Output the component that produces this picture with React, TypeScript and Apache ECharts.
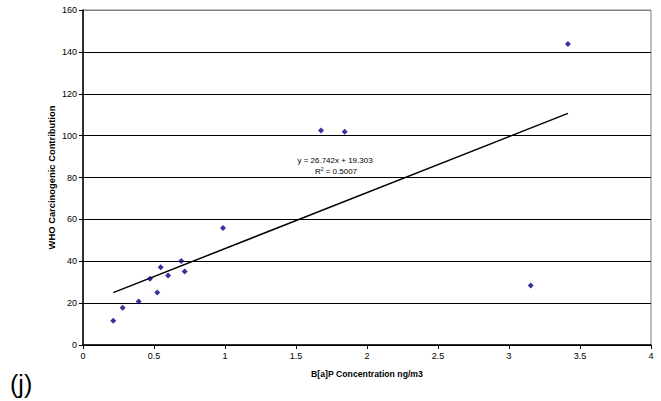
import React, { useEffect, useRef } from "react";
import * as echarts from "echarts";

// B[a]P concentration (ng/m3) and WHO carcinogenic contribution per sample
const bapConc = [0.213, 0.279, 0.392, 0.472, 0.523, 0.547, 0.599, 0.692, 0.716, 0.986, 1.676, 1.843, 3.153, 3.415];
const whoContribution = [11.6, 17.8, 20.8, 31.7, 25.1, 37.1, 33.2, 40.1, 35.1, 55.9, 102.5, 101.9, 28.4, 143.8];

// Linear fit
const slope = 26.742;
const intercept = 19.303;
const rSquared = 0.5007;

const xTicks = [0, 0.5, 1, 1.5, 2, 2.5, 3, 3.5, 4];
const yTicks = [0, 20, 40, 60, 80, 100, 120, 140, 160];

const FONT = "'Liberation Sans', Arial, sans-serif";

export default function App() {
  const ref = useRef<HTMLDivElement>(null);

  useEffect(() => {
    if (!ref.current) return;
    const chart = echarts.init(ref.current, undefined, { renderer: "svg" });

    const xMin = Math.min(...bapConc);
    const xMax = Math.max(...bapConc);
    const fitLine = [
      [xMin, slope * xMin + intercept],
      [xMax, slope * xMax + intercept],
    ];

    const gridColors = yTicks.map((_, i) => (i === yTicks.length - 1 ? "#808080" : "#000000"));

    chart.setOption({
      animation: false,
      backgroundColor: "#ffffff",
      grid: {
        left: 83,
        right: 10,
        top: 10,
        bottom: 56,
        show: true,
        borderColor: "#808080",
        borderWidth: 1,
      },
      xAxis: {
        type: "value",
        min: xTicks[0],
        max: xTicks[xTicks.length - 1],
        interval: 0.5,
        name: "B[a]P Concentration ng/m3",
        nameLocation: "middle",
        nameGap: 24,
        nameMoveOverlap: false,
        nameTextStyle: { fontFamily: FONT, fontSize: 8.7, fontWeight: "bold", color: "#000" },
        axisLine: { show: true, onZero: false, lineStyle: { color: "#000", width: 1.5 } },
        axisTick: { show: true, length: 4, lineStyle: { color: "#000" } },
        axisLabel: { fontFamily: FONT, fontSize: 9, color: "#000", margin: 6 },
        splitLine: { show: false },
      },
      yAxis: {
        type: "value",
        min: yTicks[0],
        max: yTicks[yTicks.length - 1],
        interval: 20,
        name: "WHO Carcinogenic Contribution",
        nameLocation: "middle",
        nameGap: 27,
        nameMoveOverlap: false,
        nameTextStyle: { fontFamily: FONT, fontSize: 9.4, fontWeight: "bold", color: "#000" },
        axisLine: { show: true, onZero: false, lineStyle: { color: "#000", width: 1.5 } },
        axisTick: { show: true, length: 4, lineStyle: { color: "#000" } },
        axisLabel: { fontFamily: FONT, fontSize: 9, color: "#000", margin: 6 },
        splitLine: { show: true, lineStyle: { color: gridColors, width: 1 } },
      },
      series: [
        {
          type: "scatter",
          data: bapConc.map((x, i) => [x, whoContribution[i]]),
          symbol: "diamond",
          symbolSize: 6,
          itemStyle: { color: "#000080" },
          z: 3,
        },
        {
          type: "line",
          data: fitLine,
          showSymbol: false,
          symbol: "none",
          lineStyle: { color: "#000", width: 1.5 },
          z: 2,
        },
      ],
      graphic: [
        {
          type: "text",
          x: 335,
          y: 160,
          style: {
            text: `y = ${slope}x + ${intercept}`,
            font: `8px ${FONT}`,
            fill: "#000",
            align: "center",
            verticalAlign: "middle",
          },
        },
        {
          type: "text",
          x: 336,
          y: 171,
          style: {
            text: `R{sup|2} = ${rSquared}`,
            font: `8px ${FONT}`,
            fill: "#000",
            align: "center",
            verticalAlign: "middle",
            rich: {
              sup: { fontSize: 5, fontFamily: FONT, verticalAlign: "top", padding: [0, 0, 4, 0] },
            },
          },
        },
        {
          type: "text",
          x: 10,
          y: 384,
          style: {
            text: "(j)",
            font: `25px ${FONT}`,
            fill: "#000",
            align: "left",
            verticalAlign: "middle",
          },
        },
      ],
    });

    return () => chart.dispose();
  }, []);

  return <div ref={ref} style={{ width: 661, height: 401, position: "absolute", left: 0, top: 0 }} />;
}
